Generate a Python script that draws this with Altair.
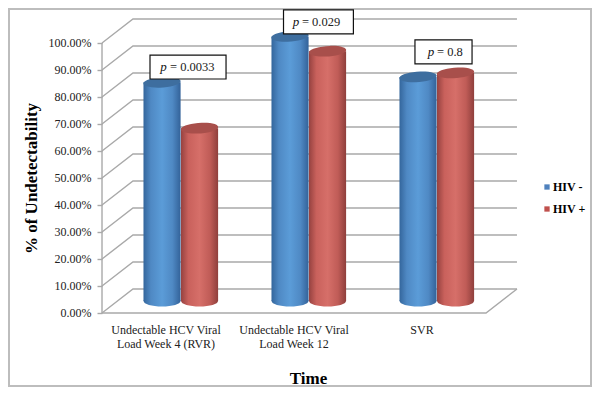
import altair as alt
import pandas as pd

# Data
categories = ["Undectable HCV Viral\nLoad Week 4 (RVR)", "Undectable HCV Viral\nLoad Week 12", "SVR"]
series_names = ["HIV -", "HIV +"]
hiv_neg = [81.0, 98.0, 83.0]
hiv_pos = [64.0, 92.5, 84.5]
p_labels = ["= 0.0033", "= 0.029", "= 0.8"]
ticks = list(range(0, 101, 10))

FONT = "Liberation Serif"
W, H = 582, 377
# x: one unit = one category on the front plane; y: percent on the front plane
XS = alt.Scale(domain=[-0.7266, 3.8203], nice=False, zero=False)
YS = alt.Scale(domain=[-27.04, 112.59], nice=False, zero=False)
DX, DY = 0.242, 8.89          # depth of the 3-D box
MX, MY = DX / 2, DY / 2       # cylinders stand mid-depth
BAR_W = 0.29
PX_W = 37
GREY = "#a9a9a9"

X_AXIS = alt.Axis(
    values=[0], domain=False, ticks=False, labels=False, grid=False,
    title="Time", titleFont=FONT, titleFontSize=17, titleFontWeight="bold", titleColor="#000",
    titleX=299, titleY=-8, titleAlign="center", titleBaseline="middle")
Y_AXIS = alt.Axis(
    values=ticks, offset=-93, domain=False, grid=False, tickSize=5, tickColor=GREY, tickWidth=1.4,
    labelFont=FONT, labelFontSize=12, labelColor="#222", labelPadding=6,
    labelExpr="format(datum.value, '.2f') + '%'",
    title="% of Undetectability", titleFont=FONT, titleFontSize=17, titleFontWeight="bold",
    titleColor="#000", titleX=-71, titleY=169, titleAlign="center", titleBaseline="middle", titleAngle=270)

def X(f="x"):
    return alt.X(f"{f}:Q", scale=XS, axis=X_AXIS)

def Y(f="y"):
    return alt.Y(f"{f}:Q", scale=YS, axis=Y_AXIS)

# Frame: back wall lines, diagonal side-wall lines, floor and front axis
frame = []
gid = 0
def seg(points):
    global gid
    gid += 1
    for k, (a, b) in enumerate(points):
        frame.append({"id": gid, "k": k, "x": a, "y": b})
for t in ticks:
    seg([(0, t), (DX, t + DY), (3 + DX, t + DY)])
seg([(0, 0), (3, 0), (3 + DX, DY)])
seg([(0, 0), (0, 100)])
frame_layer = alt.Chart(pd.DataFrame(frame)).mark_line(color=GREY, strokeWidth=1.4).encode(
    x=X(), y=Y(), detail="id:N", order="k:Q")

# Category labels
cat_df = pd.DataFrame({"label": categories, "x": [0.5, 1.5, 2.5], "y": [0, 0, 0]})
cat_layer = alt.Chart(cat_df).mark_text(
    font=FONT, fontSize=12, color="#222", lineBreak="\n", lineHeight=14, baseline="top", dy=12
).encode(x=X(), y=Y(), text="label:N")

def grad(stops):
    return {"gradient": "linear", "x1": 0, "x2": 1, "y1": 0, "y2": 0,
            "stops": [{"offset": o, "color": c} for o, c in stops]}

styles = {
    "HIV -": (grad([(0, "#34669c"), (0.2, "#4f89c4"), (0.5, "#5b9cd8"), (0.78, "#4f89c4"), (1, "#336299")]), "#3e6e9f", 0.324),
    "HIV +": (grad([(0, "#964240"), (0.2, "#c9615c"), (0.5, "#d66f69"), (0.78, "#c05c57"), (1, "#8f3f3c")]), "#a84f4b", 0.617),
}
CAP = "M-1,0.03 A1,0.28 -4 1,1 1,-0.03 A1,0.28 -4 1,1 -1,0.03 Z"
BASE = "M-1,0 A1,0.3 0 1,1 1,0 A1,0.3 0 1,1 -1,0 Z"

bar_layers = []
for name, vals in zip(series_names, [hiv_neg, hiv_pos]):
    g, top, start = styles[name]
    df = pd.DataFrame({"i": range(3), "v": vals})
    df["x"] = df["i"] + start
    df["x2"] = df["x"] + BAR_W
    df["xc"] = df["x"] + BAR_W / 2
    df["y"] = df["v"] + MY
    df["y0"] = MY
    base = alt.Chart(df)
    bar_layers += [
        base.mark_point(shape=BASE, size=PX_W ** 2, filled=True, fill=g, strokeWidth=0, opacity=1).encode(x=X("xc"), y=Y("y0")),
        base.mark_rect(fill=g).encode(x=X("x"), x2="x2:Q", y=Y("y"), y2="y0:Q"),
        base.mark_point(shape=CAP, size=PX_W ** 2, filled=True, fill=top, strokeWidth=0, opacity=1).encode(x=X("xc"), y=Y("y")),
    ]

# p-value boxes
box_df = pd.DataFrame({
    "xc": [0.672, 1.691, 2.668], "hw": [0.297, 0.273, 0.223], "yc": [91.1, 107.8, 96.7],
    "px": [0.48, 1.516, 2.57], "tx": [0.531, 1.562, 2.617], "label": p_labels, "p": ["p", "p", "p"],
})
box_df["x"] = box_df["xc"] - box_df["hw"]
box_df["x2"] = box_df["xc"] + box_df["hw"]
box_df["y"] = box_df["yc"] - 4.44
box_df["y2"] = box_df["yc"] + 4.44
box_base = alt.Chart(box_df)
boxes = box_base.mark_rect(fill="white", stroke="#111", strokeWidth=1.2).encode(
    x=X("x"), x2="x2:Q", y=Y("y"), y2="y2:Q")
p_text = box_base.mark_text(font=FONT, fontSize=13, fontStyle="italic", color="#111", align="center").encode(
    x=X("px"), y=Y("yc"), text="p:N")
val_text = box_base.mark_text(font=FONT, fontSize=12.5, color="#222", align="left").encode(
    x=X("tx"), y=Y("yc"), text="label:N")

# Legend
legend_layer = alt.Chart(pd.DataFrame({"s": series_names, "x": [0, 0], "y": [0, 0]})).mark_square(opacity=0).encode(
    x=X(), y=Y(),
    color=alt.Color("s:N", scale=alt.Scale(domain=series_names, range=["#4f81bd", "#c0504d"]),
                    legend=alt.Legend(title=None, orient="none", legendX=532, legendY=172,
                                      symbolType="square", symbolSize=28, symbolOpacity=1, symbolStrokeWidth=0,
                                      labelFont=FONT, labelFontSize=12, labelFontWeight="bold", labelColor="#000",
                                      labelOffset=0, rowPadding=10)),
)

chart = alt.layer(frame_layer, cat_layer, *bar_layers, boxes, p_text, val_text, legend_layer).properties(
    width=W, height=H,
    autosize=alt.AutoSizeParams(type="none"),
    padding={"left": 1, "top": 1, "right": 1, "bottom": 1},
    background="white",
).configure_view(stroke="#bdbdbd", strokeWidth=2)

chart.save("out.html", embed_options={"renderer": "svg", "actions": False})
